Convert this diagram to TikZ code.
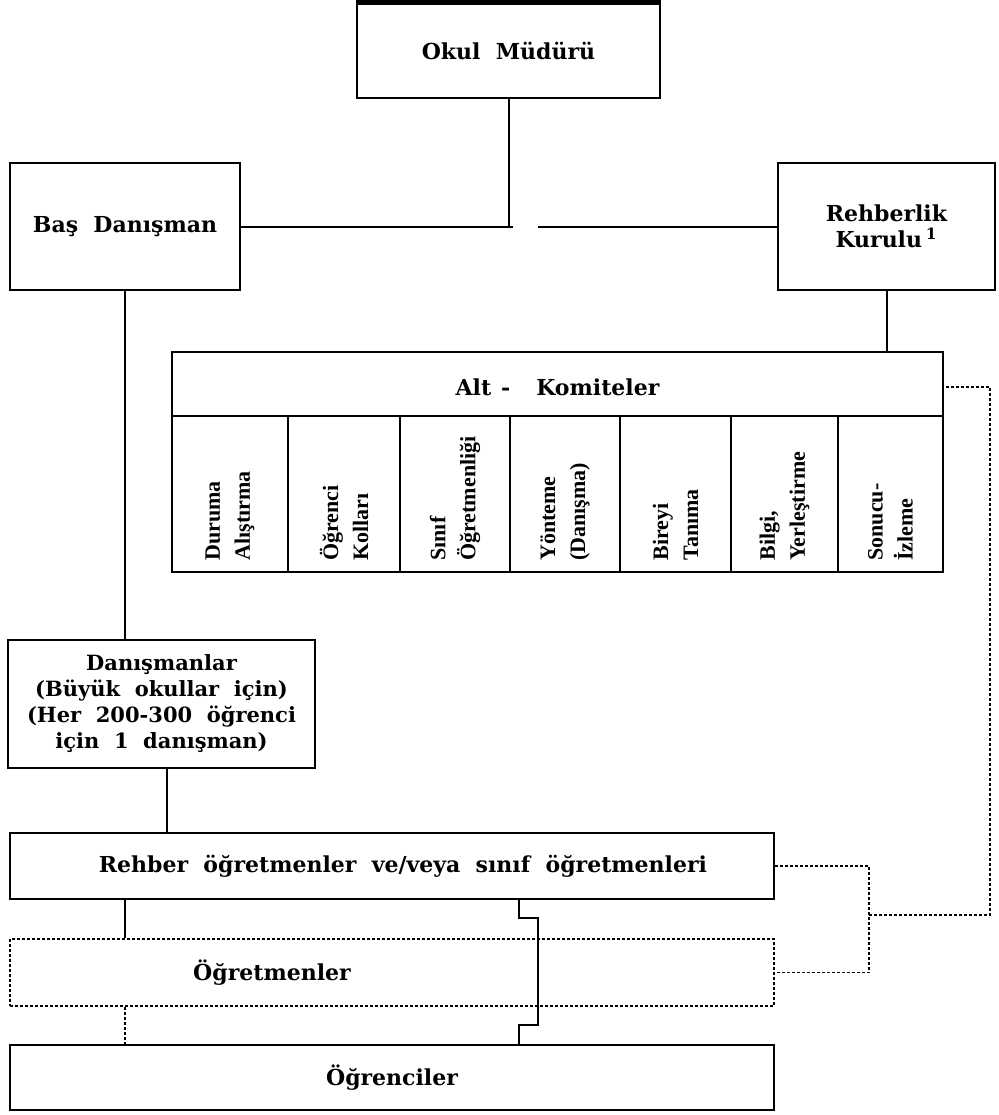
\documentclass[tikz,border=0pt]{standalone}
\usepackage{fontspec}
\setmainfont{DejaVu Serif}[WordSpace=2]
\newfontfamily\colfont{Liberation Serif}
\usetikzlibrary{calc}
\begin{document}
\begin{tikzpicture}[x=0.5pt,y=-0.5pt,
  txt/.style={font=\bfseries\fontsize{11}{13}\selectfont},
  box/.style={draw, line width=1pt, rectangle, inner sep=0pt, txt, align=center},
  dbox/.style={box, dash pattern=on 1.5pt off 1pt},
  conn/.style={line width=1pt},
  dconn/.style={line width=0.9pt, dash pattern=on 1.5pt off 1pt},
  coltext/.style={rotate=90, anchor=west, align=left, inner sep=0pt, font=\colfont\bfseries\fontsize{11}{15}\selectfont}]
\useasboundingbox (0,0) rectangle (999,1115);
% boxes
\node[box, minimum width=151.5pt, minimum height=47.5pt] (okul) at (508.5,50.5) {Okul Müdürü};
\draw[line width=2.5pt] (okul.north west) -- (okul.north east);
\node[box, minimum width=115pt, minimum height=63.5pt] (bas) at (125,226.5) {Baş Danışman};
\node[box, minimum width=108.5pt, minimum height=63.5pt] (rk) at (886.5,226.5) {Rehberlik\\Kurulu\,\textsuperscript{1}};
\node[box, minimum width=385.5pt, minimum height=110pt] (alt) at (557.5,462) {};
\node[txt, inner sep=0pt] (title) at (557.5,387) {Alt\hspace{5pt}-\hspace{13pt}Komiteler};
\coordinate (sepL) at (172,416);
\coordinate (sepR) at (943,416);
\draw[conn] (sepL) -- (sepR);
\foreach \x in {288,400,510,620,731,838} \draw[conn] (\x,416) -- (\x,572);
\foreach \x/\t [count=\i] in {230/{Duruma\\Alıştırma}, 344/{Öğrenci\\Kolları}, 455/{Sınıf\\Öğretmenliği}, 565/{Yönteme\\(Danışma)}, 675.5/{Bireyi\\Tanıma}, 784.5/{Bilgi,\\Yerleştirme}, 890.5/{Sonucu-\\İzleme}}
  \node[coltext] (col\i) at (\x,561) {\t};
\node[box, minimum width=153.5pt, minimum height=64pt, font=\bfseries\fontsize{10.5}{13}\selectfont] (dan) at (161.5,704) {Danışmanlar\\(Büyük okullar için)\\(Her 200-300 öğrenci\\için 1 danışman)};
\node[box, minimum width=382pt, minimum height=33pt] (reh) at (392,866) {};
\node[txt, inner sep=0pt] (rehl) at (403,866) {Rehber öğretmenler ve/veya sınıf öğretmenleri};
\node[dbox, minimum width=382pt, minimum height=33.5pt] (ogt) at (392,972.5) {};
\node[txt, inner sep=0pt] (ogtl) at (272,973) {Öğretmenler};
\node[box, minimum width=382pt, minimum height=32.5pt] (ogr) at (392,1077.5) {Öğrenciler};
% connectors
\coordinate (g1) at (513,226.5);
\coordinate (g2) at (538,226.5);
\draw[conn] (okul.south) -- (okul.south |- bas.east);
\draw[conn] (bas.east) -- (g1);
\draw[conn] (g2) -- (rk.west);
\draw[conn] (bas.south) -- (bas.south |- dan.north);
\draw[conn] (rk.south) -- (rk.south |- alt.north);
\draw[conn] ([xshift=2.5pt]dan.south) -- ([xshift=2.5pt]dan.south |- reh.north);
\draw[conn] (reh.south -| bas.south) -- (ogt.north -| bas.south);
\draw[dconn] (ogt.south -| bas.south) -- (ogr.north -| bas.south);
\coordinate (j1) at (519,918);
\coordinate (j2) at (538,918);
\coordinate (j3) at (538,1025);
\coordinate (j4) at (519,1025);
\draw[conn] (reh.south -| j1) -- (j1) -- (j2) -- (j3) -- (j4) -- (ogr.north -| j4);
\coordinate (bx) at (869,915);
\coordinate (far) at (990,915);
\draw[dconn] (reh.east) -- (reh.east -| bx) -- (ogt.east -| bx) -- (ogt.east);
\draw[dconn] (bx) -- (far) -- (far |- title) -- (alt.east |- title);
\end{tikzpicture}
\end{document}
